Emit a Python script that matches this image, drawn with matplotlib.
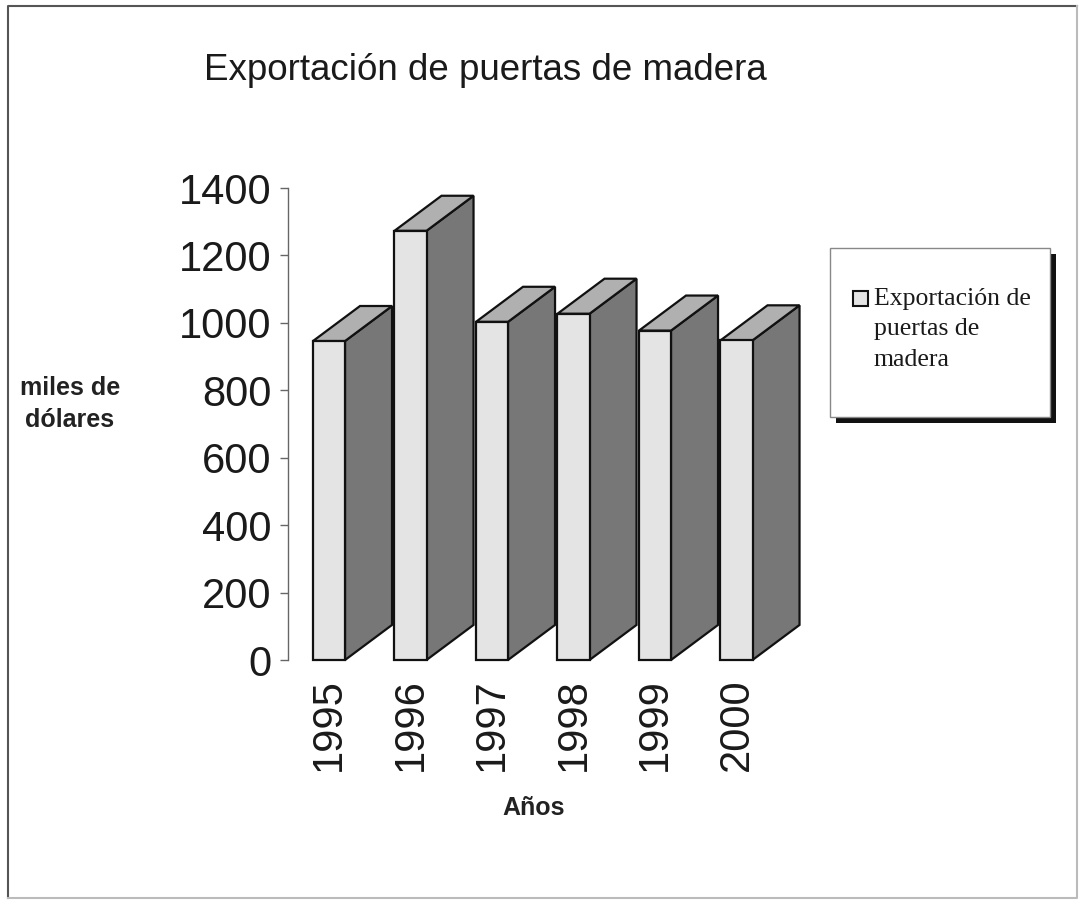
import matplotlib.pyplot as plt
from matplotlib.patches import Polygon, Rectangle
from matplotlib.lines import Line2D

# data
years = ['1995', '1996', '1997', '1998', '1999', '2000']
valores = [946, 1273, 1003, 1027, 977, 948]
serie = 'Exportación de\npuertas de\nmadera'

titulo = 'Exportación de puertas de madera'
ylab = 'miles de\ndólares'
xlab = 'Años'

# colours of the 3d faces
c_front = '#e4e4e4'
c_top = '#b0b0b0'
c_side = '#777777'

W, H = 1080, 901
fig = plt.figure(figsize=(W / 100, H / 100), dpi=100)
fig.patch.set_facecolor('white')

def fx(px):
    return px / W

def fy(py):
    return 1 - py / H

ax = fig.add_axes([fx(288), fy(660), fx(810) - fx(288), fy(188) - fy(660)])
ax.set_xlim(-0.503, 5.902)
ax.set_ylim(0, 1400)

bw = 0.393   # front face width (category units)
dx = 0.577   # depth shift in x
dy = 104     # depth shift in y (value units)

for i, v in enumerate(valores):
    x0, x1 = i - bw / 2, i + bw / 2
    front = Rectangle((x0, 0), bw, v, facecolor=c_front, edgecolor='#111', lw=1.6, clip_on=False)
    side = Polygon([(x1, 0), (x1 + dx, dy), (x1 + dx, v + dy), (x1, v)], closed=True,
                   facecolor=c_side, edgecolor='#111', lw=1.6, clip_on=False)
    top = Polygon([(x0, v), (x0 + dx, v + dy), (x1 + dx, v + dy), (x1, v)], closed=True,
                  facecolor=c_top, edgecolor='#111', lw=1.6, clip_on=False)
    ax.add_patch(side)
    ax.add_patch(top)
    ax.add_patch(front)

for s in ['top', 'right', 'bottom']:
    ax.spines[s].set_visible(False)
ax.spines['left'].set_color('#666')
ax.spines['left'].set_linewidth(1.0)

ax.set_yticks(range(0, 1401, 200))
ax.tick_params(axis='y', direction='out', length=6, width=1, color='#666', pad=6,
               labelsize=30, labelcolor='#1a1a1a')
for lab in ax.get_yticklabels():
    lab.set_family('Liberation Sans')

ax.set_xticks(range(len(years)))
ax.set_xticklabels(years, rotation=90, fontsize=30, color='#1a1a1a', family='Liberation Sans')
ax.tick_params(axis='x', length=0, pad=13)

fig.text(fx(485), fy(70), titulo, ha='center', va='center', fontsize=26.5,
         family='Liberation Sans', color='#1a1a1a')
fig.text(fx(70), fy(404), ylab, ha='center', va='center', multialignment='center',
         fontsize=18, fontweight='bold', family='Liberation Sans', color='#222', linespacing=1.45)
fig.text(fx(534), fy(808), xlab, ha='center', va='center', fontsize=18,
         fontweight='bold', family='Liberation Sans', color='#222')

# legend box with black shadow
lx0, ly0, lx1, ly1 = 830, 248, 1050, 417
fig.add_artist(Rectangle((fx(lx0 + 6), fy(ly1 + 6)), fx(lx1 - lx0), fy(ly0) - fy(ly1),
                         transform=fig.transFigure, facecolor='#111', edgecolor='none'))
fig.add_artist(Rectangle((fx(lx0), fy(ly1)), fx(lx1 - lx0), fy(ly0) - fy(ly1),
                         transform=fig.transFigure, facecolor='white', edgecolor='#888', lw=1))
fig.add_artist(Rectangle((fx(853), fy(306)), fx(15), fy(291) - fy(306),
                         transform=fig.transFigure, facecolor=c_front, edgecolor='#111', lw=1.5))
fig.text(fx(874), fy(288), serie, ha='left', va='top', fontsize=18.5,
         family='Liberation Serif', color='#1a1a1a', linespacing=1.5)

# outer frame: dark left/top, faint right/bottom
fig.add_artist(Line2D([fx(8), fx(8), fx(1077)], [fy(898), fy(6), fy(6)],
                      transform=fig.transFigure, color='#555', lw=1.5))
fig.add_artist(Line2D([fx(8), fx(1077), fx(1077)], [fy(898), fy(898), fy(6)],
                      transform=fig.transFigure, color='#bbb', lw=1.5))

fig.savefig('out.png', dpi=100)
